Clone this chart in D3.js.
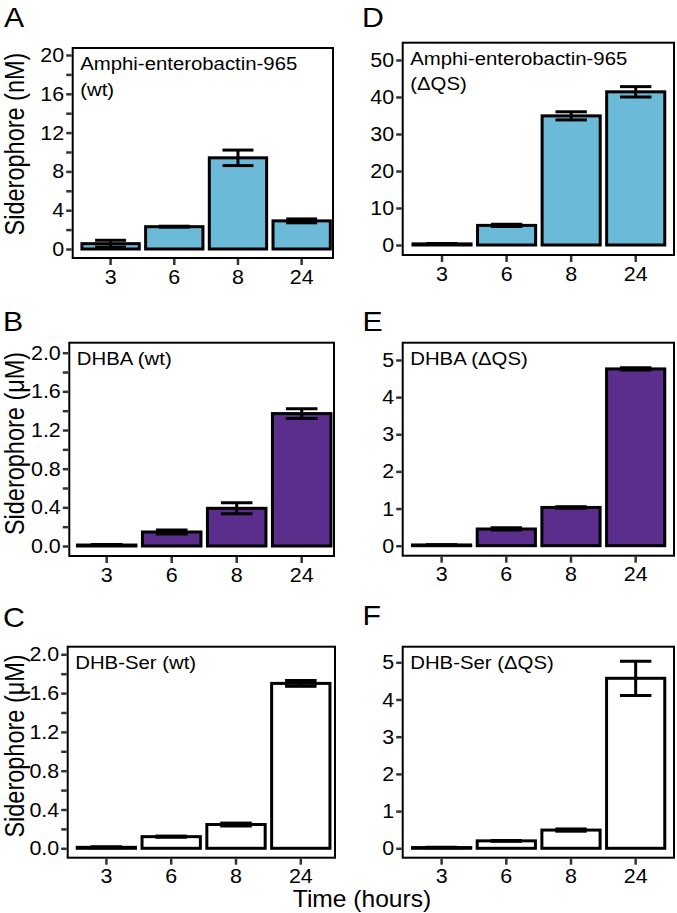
<!DOCTYPE html>
<html>
<head>
<meta charset="utf-8">
<script src="https://cdn.jsdelivr.net/npm/d3@7"></script>
<style>
  html, body { margin: 0; padding: 0; background: #fff; }
  svg { display: block; }
  text { font-family: "Liberation Sans", Arial, Helvetica, sans-serif; fill: #000; }
</style>
</head>
<body>
<svg id="chart" width="677" height="913"></svg>
<script>
// ---------------- DATA ----------------
const times = ["3", "6", "8", "24"];

const ampWtMean  = [0.55, 2.3, 9.4, 2.9];
const ampWtErr   = [0.35, 0.05, 0.8, 0.2];
const ampQsMean  = [0.3, 5.3, 34.9, 41.4];
const ampQsErr   = [0.1, 0.3, 1.1, 1.4];

const dhbaWtMean = [0.01, 0.145, 0.39, 1.37];
const dhbaWtErr  = [0.005, 0.02, 0.057, 0.05];
const dhbaQsMean = [0.02, 0.45, 1.03, 4.76];
const dhbaQsErr  = [0.005, 0.03, 0.02, 0.03];

const serWtMean  = [0.01, 0.12, 0.245, 1.70];
const serWtErr   = [0.005, 0.006, 0.015, 0.03];
const serQsMean  = [0.02, 0.2, 0.49, 4.57];
const serQsErr   = [0.005, 0.01, 0.03, 0.46];

const ticksNM    = [0, 4, 8, 12, 16, 20];
const minorNM    = [2, 6, 10, 14, 18];
const ticksQSAmp = [0, 10, 20, 30, 40, 50];
const ticksUM    = [0, 0.4, 0.8, 1.2, 1.6, 2.0];
const minorUM    = [0.2, 0.6, 1.0, 1.4, 1.8];
const ticksQS    = [0, 1, 2, 3, 4, 5];

const labelsAnno = {
  A: ["Amphi-enterobactin-965", "(wt)"],
  D: ["Amphi-enterobactin-965", "(\u0394QS)"],
  B: ["DHBA (wt)"],
  E: ["DHBA (\u0394QS)"],
  C: ["DHB-Ser (wt)"],
  F: ["DHB-Ser (\u0394QS)"]
};
const yTitleNM = "Siderophore (nM)";
const yTitleUM = "Siderophore (\u03bcM)";
const xTitle = "Time (hours)";

const blue = "#6bbbd8";
const purple = "#5b2d8c";

// ---------------- LAYOUT ----------------
const SX = 1.1; // horizontal text stretch seen in reference
const panels = [
  {id:"A", mean:ampWtMean, err:ampWtErr, ticks:ticksNM, minor:minorNM, fmt:d3.format("d"), fill:blue,
   L:72.7, R:333, T:48, B:258, y0:249, y1:55, bx:[78.75,333.5], title:yTitleNM, tcy:144, lx:4, ly:27},
  {id:"D", mean:ampQsMean, err:ampQsErr, ticks:ticksQSAmp, minor:[], fmt:d3.format("d"), fill:blue,
   L:402.7, R:674, T:42.7, B:255, y0:245, y1:60, bx:[409.75,668], lx:362, ly:27},
  {id:"B", mean:dhbaWtMean, err:dhbaWtErr, ticks:ticksUM, minor:minorUM, fmt:d3.format(".1f"), fill:purple,
   L:69.3, R:334, T:342.7, B:556, y0:546, y1:352.7, bx:[74.2,334.2], title:yTitleUM, tcy:443.5, lx:3, ly:331},
  {id:"E", mean:dhbaQsMean, err:dhbaQsErr, ticks:ticksQS, minor:[], fmt:d3.format("d"), fill:purple,
   L:402.7, R:674, T:342.7, B:555.7, y0:545.7, y1:360, bx:[409.3,668], lx:362.5, ly:331},
  {id:"C", mean:serWtMean, err:serWtErr, ticks:ticksUM, minor:minorUM, fmt:d3.format(".1f"), fill:"#ffffff",
   L:67.7, R:335, T:646.7, B:857.7, y0:848.3, y1:654.3, bx:[74,333.2], title:yTitleUM, tcy:746, lx:3, ly:627},
  {id:"F", mean:serQsMean, err:serQsErr, ticks:ticksQS, minor:[], fmt:d3.format("d"), fill:"#ffffff",
   L:402.7, R:674, T:646.7, B:857.7, y0:848.3, y1:662.3, bx:[409.3,668], lx:362.5, ly:625}
];

const svg = d3.select("#chart");

function stext(g, x, y, str, size, anchor, sx) {
  return g.append("text")
    .attr("transform", `translate(${x},${y}) scale(${sx || SX},1)`)
    .attr("text-anchor", anchor || "start")
    .style("font-size", size + "px")
    .text(str);
}

panels.forEach(p => {
  const g = svg.append("g");
  const x = d3.scaleBand().domain(times).range(p.bx).paddingInner(0.1).paddingOuter(0.05);
  const y = d3.scaleLinear().domain([0, d3.max(p.ticks)]).range([p.y0, p.y1]);
  const rows = times.map((t, i) => ({t, v: p.mean[i], e: p.err[i]}));

  // bars
  g.selectAll("rect.bar").data(rows).join("rect")
    .attr("class", "bar")
    .attr("x", d => x(d.t))
    .attr("width", x.bandwidth())
    .attr("y", d => y(d.v))
    .attr("height", d => Math.max(0.01, y(0) - y(d.v)))
    .attr("fill", p.fill)
    .attr("stroke", "#000")
    .attr("stroke-width", 3)
    .attr("stroke-linejoin", "miter");

  // error bars
  const capW = x.bandwidth() * 0.27;
  rows.forEach(d => {
    const cx = x(d.t) + x.bandwidth() / 2;
    const eg = g.append("g").attr("stroke", "#000").attr("stroke-width", 3).attr("fill", "none");
    eg.append("line").attr("x1", cx).attr("x2", cx).attr("y1", y(d.v + d.e)).attr("y2", y(d.v - d.e));
    eg.append("line").attr("x1", cx - capW).attr("x2", cx + capW).attr("y1", y(d.v + d.e)).attr("y2", y(d.v + d.e));
    eg.append("line").attr("x1", cx - capW).attr("x2", cx + capW).attr("y1", y(d.v - d.e)).attr("y2", y(d.v - d.e));
  });

  // frame
  g.append("rect").attr("x", p.L).attr("y", p.T).attr("width", p.R - p.L).attr("height", p.B - p.T)
    .attr("fill", "none").attr("stroke", "#000").attr("stroke-width", 2);

  // y ticks
  const tickLen = 5.5;
  const yAxis = d3.axisLeft(y).tickValues(p.ticks).tickSize(tickLen).tickPadding(0).tickFormat("");
  const ya = g.append("g").attr("transform", `translate(${p.L - 1},0)`).call(yAxis);
  ya.select(".domain").remove();
  ya.selectAll(".tick line").attr("stroke", "#333").attr("stroke-width", 2.5);
  if (p.minor.length) {
    const ym = g.append("g").attr("transform", `translate(${p.L - 1},0)`)
      .call(d3.axisLeft(y).tickValues(p.minor).tickSize(tickLen).tickFormat(""));
    ym.select(".domain").remove();
    ym.selectAll(".tick line").attr("stroke", "#333").attr("stroke-width", 2.5);
  }
  p.ticks.forEach(v => {
    stext(g, p.L - 8.5, y(v) + 7, p.fmt(v), 19.5, "end");
  });

  // x ticks
  const xa = g.append("g").attr("transform", `translate(0,${p.B + 1})`)
    .call(d3.axisBottom(x).tickSize(6).tickFormat(""));
  xa.select(".domain").remove();
  xa.selectAll(".tick line").attr("stroke", "#333").attr("stroke-width", 2.5);
  times.forEach(t => {
    stext(g, x(t) + x.bandwidth() / 2, p.B + 25.5, t, 19.5, "middle");
  });

  // annotation
  labelsAnno[p.id].forEach((s, i) => {
    stext(g, p.L + 7.5, p.T + 22 + i * 25.5, s, 18.5, "start");
  });

  // panel letter
  stext(g, p.lx, p.ly, p.id, 28, "start", 1.08);

  // y title
  if (p.title) {
    g.append("text")
      .attr("transform", `translate(24,${p.tcy}) scale(1.15,1) rotate(-90)`)
      .attr("text-anchor", "middle")
      .style("font-size", "23.5px")
      .text(p.title);
  }
});

// x title
stext(svg, 362, 906.5, xTitle, 23, "middle", 1.07);
</script>
</body>
</html>
